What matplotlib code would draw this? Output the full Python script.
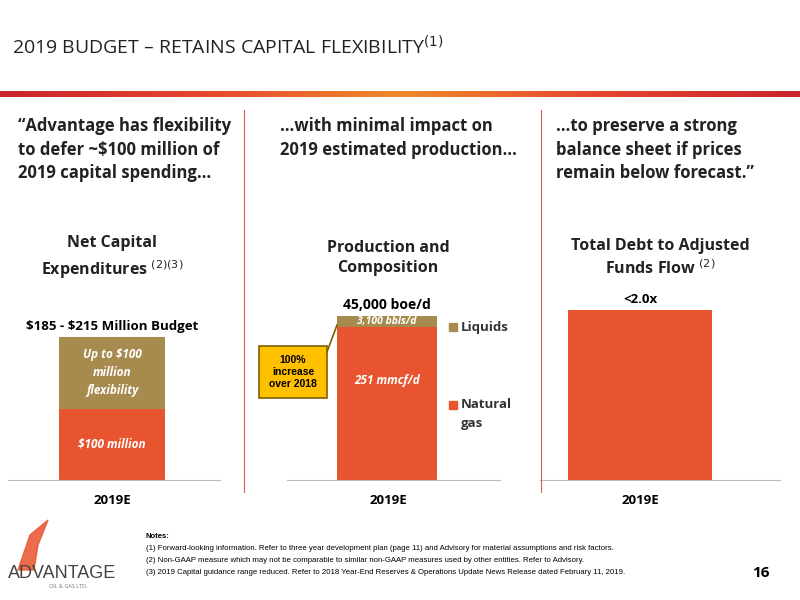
import numpy as np
import matplotlib
matplotlib.use("Agg")
import matplotlib.pyplot as plt
from matplotlib.patches import Rectangle, FancyBboxPatch

# data
capex_labels = ["\\$100 million", "Up to \\$100\nmillion\nflexibility"]
capex_values = [100, 100]  # $MM
prod_labels = ["251 mmcf/d", "3,100 bbls/d"]
prod_values = [41.9, 3.1]  # thousand boe/d
debt_value = [2.0]
category = ["2019E"]

ORANGE = "#E8542F"
TAN = "#A68A4E"
W, H = 800, 600

fig = plt.figure(figsize=(8, 6), dpi=100)

def fx(px):
    return px / W

def fy(py):
    return 1 - py / H

def txt(x, y, s, **kw):
    kw.setdefault("fontfamily", "Open Sans")
    fig.text(fx(x), fy(y), s, **kw)

# title and gradient bar
txt(12, 47, "2019 BUDGET \u2013 RETAINS CAPITAL FLEXIBILITY$^{(1)}$", fontsize=14, va="center", color="#222222")
gax = fig.add_axes([0, fy(97), 1, 6 / H])
grad = np.linspace(0, 1, 256).reshape(1, -1)
cmap = matplotlib.colors.LinearSegmentedColormap.from_list("g", ["#C9252C", "#E4452F", "#F08A2A", "#E4452F", "#C9252C"])
gax.imshow(grad, aspect="auto", cmap=cmap)
gax.axis("off")

# quotes
qkw = dict(fontsize=12, fontweight="bold", va="top", color="#222222", linespacing=1.4)
txt(18, 117, "\u201cAdvantage has flexibility\nto defer ~$100 million of\n2019 capital spending\u2026", **qkw)
txt(280, 117, "\u2026with minimal impact on\n2019 estimated production\u2026", **qkw)
txt(556, 117, "\u2026to preserve a strong\nbalance sheet if prices\nremain below forecast.\u201d", **qkw)

# dividers
for x in (244, 541):
    fig.add_artist(plt.Line2D([fx(x), fx(x)], [fy(110), fy(492)], color="#E25A4A", lw=0.8))

base = fy(480)
hgt = 200 / H

def make_ax(x0, x1, ymax):
    ax = fig.add_axes([fx(x0), base, fx(x1) - fx(x0), hgt])
    ax.set_xlim(0, 1)
    ax.set_ylim(0, ymax)
    for s in ("top", "right", "left"):
        ax.spines[s].set_visible(False)
    ax.spines["bottom"].set_color("#BBBBBB")
    ax.set_yticks([])
    ax.set_xticks([])
    return ax

lbl = dict(fontweight="bold", style="italic", fontfamily="Open Sans", color="white", ha="center", va="center")

# panel 1
ax1 = make_ax(8, 220, 280)
c1 = (112 - 8) / 212
ax1.bar(c1, capex_values[0], width=0.5, color=ORANGE)
ax1.bar(c1, capex_values[1], width=0.5, bottom=capex_values[0], color=TAN)
ax1.text(c1, capex_values[0] / 2, capex_labels[0], fontsize=8.5, **lbl)
ax1.text(c1, capex_values[0] + capex_values[1] / 2, capex_labels[1], fontsize=8.5, linespacing=1.5, **lbl)
ax1.text(c1, sum(capex_values) + 6, "\\$185 - \\$215 Million Budget", ha="center", va="bottom",
         fontsize=9.5, fontweight="bold", fontfamily="Open Sans")
txt(112, 500, category[0], ha="center", va="center", fontsize=9.5, fontweight="bold")
txt(112, 258, "Net Capital\nExpenditures $^{(2)(3)}$", ha="center", va="center", fontsize=11.5,
    fontweight="bold", color="#222222", linespacing=1.4)

# panel 2
ax2 = make_ax(287, 500, 54.9)
c2 = (387 - 287) / 213
ax2.bar(c2, prod_values[0], width=0.47, color=ORANGE)
ax2.bar(c2, prod_values[1], width=0.47, bottom=prod_values[0], color=TAN)
ax2.text(c2, prod_values[0] * 0.65, prod_labels[0], fontsize=8.5, **lbl)
ax2.text(c2, prod_values[0] + prod_values[1] / 2, prod_labels[1], fontsize=7.5, **lbl)
ax2.text(c2, sum(prod_values) + 1, "45,000 boe/d", ha="center", va="bottom",
         fontsize=10, fontweight="bold", fontfamily="Open Sans")
txt(388, 500, category[0], ha="center", va="center", fontsize=9.5, fontweight="bold")
txt(388, 258, "Production and\nComposition", ha="center", va="center", fontsize=11.5,
    fontweight="bold", color="#222222", linespacing=1.4)
# legend
fig.add_artist(Rectangle((fx(449), fy(331)), 8 / W, 8 / H, color=TAN))
txt(461, 327, "Liquids", va="center", fontsize=9.5, fontweight="bold", color="#333333")
fig.add_artist(Rectangle((fx(449), fy(409)), 8 / W, 8 / H, color=ORANGE))
txt(461, 405, "Natural", va="center", fontsize=9.5, fontweight="bold", color="#333333")
txt(461, 424, "gas", va="center", fontsize=9.5, fontweight="bold", color="#333333")
# callout
fig.add_artist(FancyBboxPatch((fx(259), fy(398)), 68 / W, 52 / H, boxstyle="square,pad=0",
                              fc="#FFC000", ec="#7F6000", lw=1.2))
txt(293, 372, "100%\nincrease\nover 2018", ha="center", va="center", fontsize=7.5,
    fontweight="bold", linespacing=1.2, fontfamily="Liberation Sans")
fig.add_artist(plt.Line2D([fx(327), fx(337)], [fy(352), fy(325)], color="#7F6000", lw=1.2))

# panel 3
ax3 = make_ax(540, 780, 2.35)
c3 = (640 - 540) / 240
ax3.bar(c3, debt_value[0], width=0.6, color=ORANGE)
ax3.text(c3, debt_value[0] + 0.04, "<2.0x", ha="center", va="bottom", fontsize=9.5,
         fontweight="bold", fontfamily="Open Sans")
txt(640, 500, category[0], ha="center", va="center", fontsize=9.5, fontweight="bold")
txt(660, 258, "Total Debt to Adjusted\nFunds Flow $^{(2)}$", ha="center", va="center", fontsize=11.5,
    fontweight="bold", color="#222222", linespacing=1.4)

# notes
nkw = dict(fontsize=5.6, va="center", fontfamily="Liberation Sans")
txt(146, 536, "Notes:", fontweight="bold", **nkw)
txt(146, 549, "(1) Forward-looking information. Refer to three year development plan (page 11) and Advisory for material assumptions and risk factors.", **nkw)
txt(146, 561, "(2) Non-GAAP measure which may not be comparable to similar non-GAAP measures used by other entities. Refer to Advisory.", **nkw)
txt(146, 573, "(3) 2019 Capital guidance range reduced. Refer to 2018 Year-End Reserves & Operations Update News Release dated February 11, 2019.", **nkw)
txt(770, 573, "16", ha="right", va="center", fontsize=11, fontweight="bold")

# logo
txt(8, 573, "ADVANTAGE", va="center", fontsize=13, color="#444444", fontfamily="Liberation Sans")
txt(88, 587, "OIL & GAS LTD.", ha="right", va="center", fontsize=4, color="#777777")
flame = plt.Polygon([(fx(18), fy(570)), (fx(30), fy(535)), (fx(48), fy(520)), (fx(38), fy(545)),
                     (fx(34), fy(570))], color="#E8542F", alpha=0.85)
fig.add_artist(flame)

fig.savefig("out.png", dpi=100, facecolor="white")
